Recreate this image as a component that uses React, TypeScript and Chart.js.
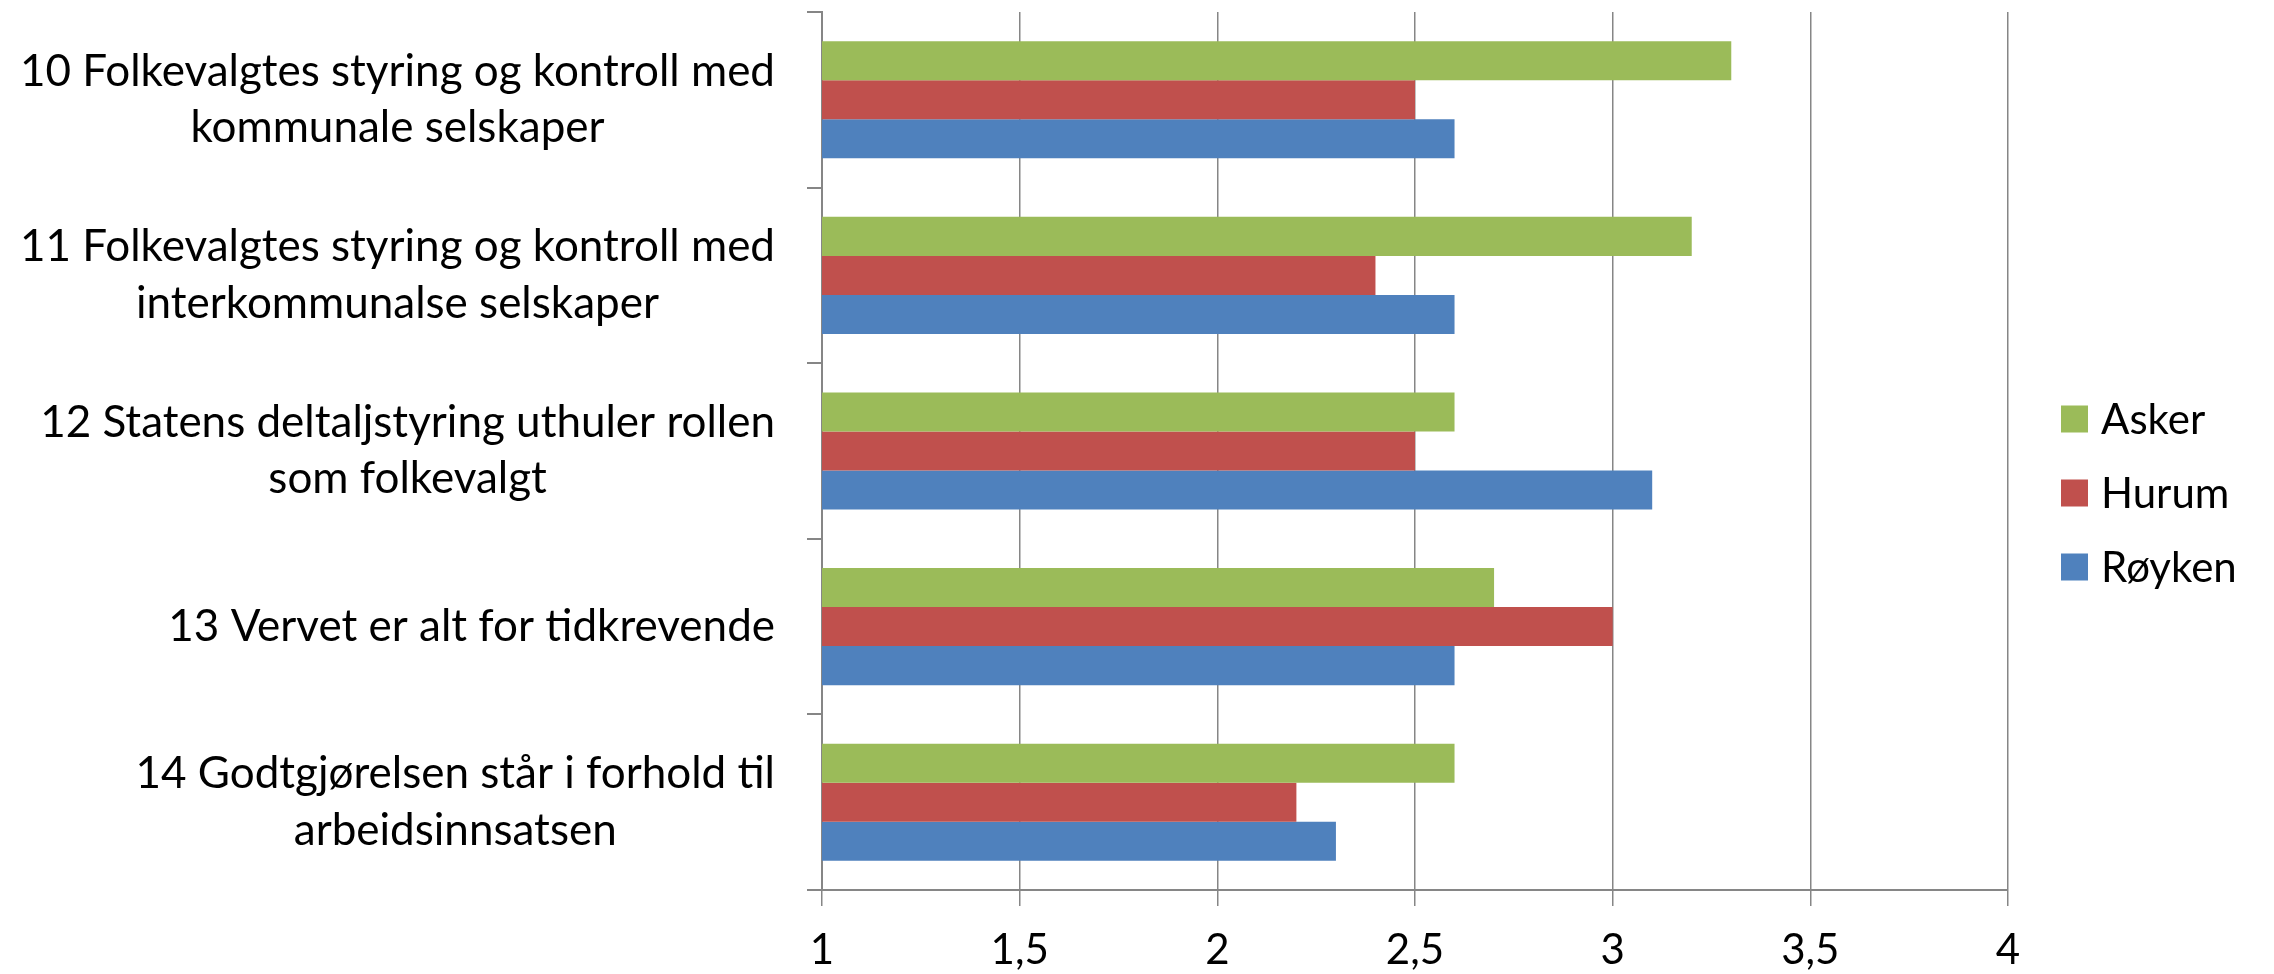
import React, { useEffect, useRef } from 'react';
import { Chart, registerables } from 'chart.js';

Chart.register(...registerables);

const categories: string[][] = [
  ['10 Folkevalgtes styring og kontroll med', 'kommunale selskaper'],
  ['11 Folkevalgtes styring og kontroll med', 'interkommunalse selskaper'],
  ['12 Statens deltaljstyring uthuler rollen', 'som folkevalgt'],
  ['13 Vervet er alt for tidkrevende'],
  ['14 Godtgjørelsen står i forhold til', 'arbeidsinnsatsen'],
];
const seriesNames = ['Asker', 'Hurum', 'Røyken'];
const askerValues = [3.3, 3.2, 2.6, 2.7, 2.6];
const hurumValues = [2.5, 2.4, 2.5, 3.0, 2.2];
const roykenValues = [2.6, 2.6, 3.1, 2.6, 2.3];
const seriesColors = ['#9BBB59', '#C0504D', '#4F81BD'];
const xTickLabels = ['1', '1,5', '2', '2,5', '3', '3,5', '4'];

const FONT = 'Lato, "Open Sans", sans-serif';
const GRID = '#868686';

const categoryLabelPlugin = {
  id: 'categoryLabels',
  afterDraw(chart: any) {
    const ctx = chart.ctx as CanvasRenderingContext2D;
    const yScale = chart.scales.y;
    const labels = chart.data.labels as string[][];
    const right = chart.chartArea.left - 47;
    const lineH = 56.6;
    ctx.save();
    ctx.font = `44px ${FONT}`;
    ctx.fillStyle = '#000000';
    ctx.textAlign = 'center';
    ctx.textBaseline = 'middle';
    labels.forEach((lines, i) => {
      const cy = yScale.getPixelForValue(i);
      const w = Math.max(...lines.map((l) => ctx.measureText(l).width));
      const cx = right - w / 2;
      lines.forEach((l, j) => {
        ctx.fillText(l, cx, cy + (j - (lines.length - 1) / 2) * lineH);
      });
    });
    ctx.restore();
  },
};

const legendPlugin = {
  id: 'customLegend',
  afterDraw(chart: any) {
    const ctx = chart.ctx as CanvasRenderingContext2D;
    const datasets = chart.data.datasets;
    const pitch = 74;
    const centerY = chart.height / 2 + 6;
    ctx.save();
    ctx.font = `42px ${FONT}`;
    ctx.textAlign = 'left';
    ctx.textBaseline = 'middle';
    datasets.forEach((ds: any, i: number) => {
      const cy = centerY + (i - (datasets.length - 1) / 2) * pitch;
      ctx.fillStyle = ds.backgroundColor;
      ctx.fillRect(2061, cy - 13.5, 27, 27);
      ctx.fillStyle = '#000000';
      ctx.fillText(ds.label, 2101, cy + 1);
    });
    ctx.restore();
  },
};

export default function App() {
  const ref = useRef<HTMLCanvasElement>(null);
  useEffect(() => {
    if (!ref.current) return;
    const values = [askerValues, hurumValues, roykenValues];
    const chart = new Chart(ref.current, {
      type: 'bar',
      data: {
        labels: categories as any,
        datasets: seriesNames.map((name, i) => ({
          label: name,
          data: values[i],
          backgroundColor: seriesColors[i],
          borderWidth: 0,
          barPercentage: 1,
          categoryPercentage: 0.667,
        })),
      },
      options: {
        indexAxis: 'y',
        responsive: false,
        animation: false,
        layout: { padding: { top: 12, right: 266, left: 0, bottom: 0 } },
        plugins: {
          legend: { display: false },
          tooltip: { enabled: false },
        },
        scales: {
          x: {
            type: 'linear',
            min: 1,
            max: 4,
            ticks: {
              stepSize: 0.5,
              color: '#000000',
              font: { family: FONT, size: 42 },
              padding: 19,
              callback: (_v: any, idx: number) => xTickLabels[idx],
            },
            grid: { color: GRID, lineWidth: 1.5, tickLength: 16, drawTicks: true },
            border: { color: GRID, width: 2 },
            afterFit: (scale: any) => {
              scale.height = 84;
            },
          },
          y: {
            type: 'category',
            ticks: { display: false },
            grid: { drawOnChartArea: false, drawTicks: true, tickLength: 15, color: GRID, lineWidth: 2, offset: true },
            border: { color: GRID, width: 2 },
            afterFit: (scale: any) => {
              scale.width = 822;
            },
          },
        },
      },
      plugins: [categoryLabelPlugin, legendPlugin],
    });
    return () => chart.destroy();
  }, []);
  return (
    <div style={{ position: 'fixed', left: 0, top: 0, width: 2274, height: 974, background: '#ffffff' }}>
      <canvas ref={ref} width={2274} height={974} style={{ display: 'block' }} />
    </div>
  );
}
